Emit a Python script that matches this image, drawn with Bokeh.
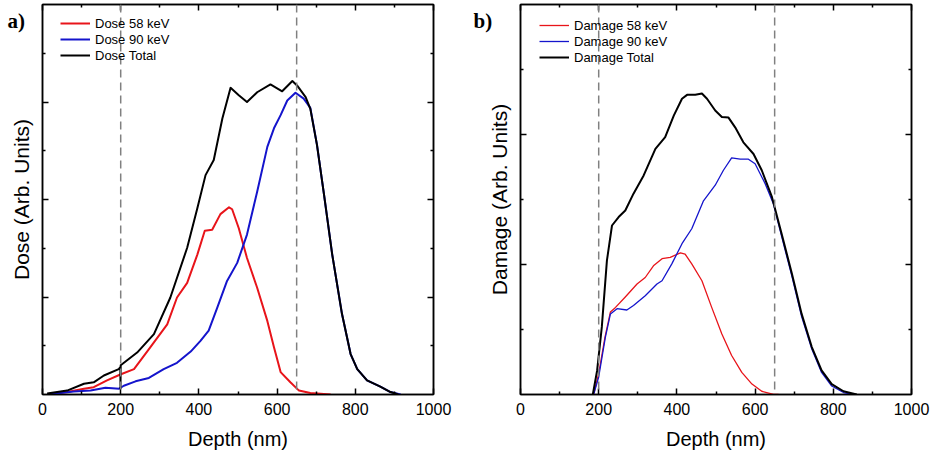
from bokeh.plotting import figure
from bokeh.layouts import row
from bokeh.models import (Range1d, FixedTicker, LinearAxis, Span, Legend, LegendItem, Label)
from bokeh.embed import file_html
from bokeh.resources import INLINE

# ---------------- data: panel a (Dose) ----------------
dose_x_58 = [12, 63, 106, 131, 165, 199, 234, 276, 319, 344, 370, 396, 415, 434, 455, 477, 485,
             502, 523, 549, 575, 592, 609, 634, 656, 685, 737]
dose_58 = [0, 0.05, 0.12, 0.15, 0.29, 0.41, 0.52, 0.97, 1.44, 1.99, 2.29, 2.87, 3.36, 3.38, 3.70,
           3.84, 3.80, 3.41, 2.80, 2.19, 1.51, 0.97, 0.46, 0.25, 0.08, 0.03, 0]

dose_x_90 = [12, 80, 123, 161, 196, 208, 238, 272, 310, 344, 379, 404, 425, 447, 472, 498, 523,
             549, 575, 592, 609, 626, 647, 668, 685, 702, 720, 741, 766, 788, 805, 830, 864, 890, 916]
dose_90 = [0, 0.06, 0.08, 0.14, 0.12, 0.18, 0.27, 0.34, 0.52, 0.65, 0.88, 1.10, 1.31, 1.78, 2.33,
           2.70, 3.28, 4.16, 5.08, 5.46, 5.73, 6.03, 6.19, 6.07, 5.88, 5.12, 4.10, 2.87, 1.65, 0.83,
           0.52, 0.29, 0.16, 0.05, 0]

dose_x_tot = [12, 63, 106, 131, 157, 195, 199, 199.5, 200, 242, 285, 327, 370, 396, 417, 438, 460,
              481, 502, 523, 549, 583, 613, 639, 651, 673, 685, 702, 720, 741, 766, 788, 805, 830,
              864, 890, 910]
dose_tot = [0.02, 0.08, 0.22, 0.25, 0.39, 0.52, 0.56, 0.13, 0.60, 0.86, 1.24, 1.99, 3.01, 3.82,
            4.50, 4.81, 5.66, 6.29, 6.14, 6.00, 6.20, 6.36, 6.22, 6.43, 6.34, 6.10, 5.86, 5.12,
            4.10, 2.87, 1.65, 0.83, 0.52, 0.29, 0.16, 0.05, 0]

# ---------------- data: panel b (Damage) ----------------
dmg_x_58 = [187, 200, 216, 230, 243, 268, 298, 319, 340, 362, 383, 409, 421, 438, 464, 489, 515,
            540, 566, 592, 617, 647, 660]
dmg_58 = [0, 0.32, 0.88, 1.27, 1.34, 1.50, 1.70, 1.80, 1.98, 2.09, 2.11, 2.18, 2.16, 2.01, 1.75,
          1.34, 0.93, 0.60, 0.34, 0.16, 0.05, 0, 0]

dmg_x_90 = [187, 200, 217, 230, 247, 272, 289, 319, 349, 362, 387, 413, 438, 468, 498, 519, 540,
            562, 583, 600, 626, 647, 668, 694, 719, 745, 770, 796, 826, 850]
dmg_90 = [0, 0.27, 0.88, 1.24, 1.32, 1.30, 1.37, 1.52, 1.70, 1.75, 2.01, 2.32, 2.55, 2.98, 3.22,
          3.45, 3.64, 3.62, 3.62, 3.55, 3.24, 2.93, 2.43, 1.82, 1.20, 0.70, 0.34, 0.13, 0.03, 0]

dmg_x_tot = [185, 196, 208, 221, 234, 251, 268, 289, 315, 345, 370, 392, 413, 426, 447, 464, 477,
             498, 515, 532, 549, 570, 596, 617, 643, 668, 694, 719, 745, 770, 796, 826, 860]
dmg_tot = [0, 0.37, 1.04, 2.06, 2.60, 2.73, 2.83, 3.09, 3.37, 3.78, 3.96, 4.29, 4.55, 4.61, 4.61,
           4.63, 4.55, 4.37, 4.27, 4.26, 4.11, 3.88, 3.70, 3.45, 3.04, 2.47, 1.86, 1.24, 0.73, 0.37,
           0.16, 0.05, 0]

x_ticks = [0, 200, 400, 600, 800, 1000]
x_minor = [100, 300, 500, 700, 900]
markers = [200, 650]

labels_a = ["Dose 58 keV", "Dose 90 keV", "Dose Total"]
labels_b = ["Damage 58 keV", "Damage 90 keV", "Damage Total"]

RED = "#e8141a"
BLUE = "#1414cc"
FONT = "Liberation Sans"


def base_axis(ax):
    ax.axis_line_width = 1.5
    ax.axis_line_color = "black"
    ax.major_tick_in = 6
    ax.major_tick_out = 0
    ax.minor_tick_out = 0
    ax.major_tick_line_width = 1.5
    ax.minor_tick_line_width = 1.5
    ax.major_tick_line_color = "black"
    ax.minor_tick_line_color = "black"


def tick_only(ax, positions, length):
    # an axis without labels: every tick is drawn as a "minor" tick
    base_axis(ax)
    ax.ticker = FixedTicker(ticks=[], minor_ticks=positions)
    ax.minor_tick_in = length
    ax.major_label_standoff = 0


def add_ticks(p, side, major, minor):
    a1 = LinearAxis()
    tick_only(a1, major, 6)
    p.add_layout(a1, side)
    a2 = LinearAxis()
    tick_only(a2, minor, 3)
    a2.axis_line_color = None
    p.add_layout(a2, side)


def make_panel(width, left, right, ymax, yt, ym, ylabel, series, labels, widths, leg_loc,
               tag, tag_x):
    p = figure(width=width, height=461, output_backend="svg", toolbar_location=None,
               x_range=Range1d(0, 1000), y_range=Range1d(0, ymax), y_axis_location=None,
               min_border_left=left, min_border_right=right, min_border_top=4, min_border_bottom=67,
               x_axis_label="Depth (nm)")
    p.grid.visible = False
    p.outline_line_color = "black"
    p.outline_line_width = 1.5
    p.background_fill_color = "white"
    p.border_fill_color = "white"

    xa = p.xaxis[0]
    base_axis(xa)
    xa.ticker = FixedTicker(ticks=x_ticks, minor_ticks=x_minor)
    xa.minor_tick_in = 3
    xa.major_label_text_font = FONT
    xa.major_label_text_font_size = "16px"
    xa.major_label_text_color = "black"
    xa.major_label_standoff = 8
    xa.axis_label_standoff = 10
    xa.axis_label_text_font_size = "20px"

    # left: ticks first (next to the frame), then an axis carrying only the title
    add_ticks(p, "left", yt, ym)
    ya = LinearAxis(ticker=FixedTicker(ticks=[], minor_ticks=[]), axis_label=ylabel)
    ya.axis_line_color = None
    ya.major_tick_out = 0
    ya.major_tick_in = 0
    ya.minor_tick_out = 0
    ya.minor_tick_in = 0
    ya.major_label_standoff = 0
    ya.axis_label_standoff = 10
    ya.axis_label_text_font_size = "21px"
    p.add_layout(ya, "left")

    for ax in (xa, ya):
        ax.axis_label_text_font = FONT
        ax.axis_label_text_font_style = "normal"
        ax.axis_label_text_color = "black"

    add_ticks(p, "above", x_ticks, x_minor)
    add_ticks(p, "right", yt, ym)

    for m in markers:
        p.add_layout(Span(location=m, dimension="height", line_color="#808080",
                          line_width=1.5, line_dash="8 5"))

    colors = [RED, BLUE, "black"]
    rends = []
    for (xs, ys), c, w in zip(series, colors, widths):
        r = p.line(xs, ys, line_color=c, line_width=w, line_join="round")
        rends.append(r)

    items = [LegendItem(label=l, renderers=[r]) for l, r in zip(labels, rends)]
    leg = Legend(items=items, location=leg_loc, padding=0, spacing=0, margin=0,
                 label_height=16, glyph_height=16, glyph_width=30, label_standoff=5,
                 label_text_font=FONT, label_text_font_size="13px", label_text_color="black",
                 border_line_color=None, background_fill_alpha=0)
    p.add_layout(leg, "center")

    # panel tag, drawn at an absolute canvas position (kept in the wide right border so
    # that it is not clipped to the frame and does not change the layout)
    tag_label = Label(x=tag_x, y=20, x_units="canvas", y_units="canvas", text=tag,
                      text_font="Liberation Serif", text_font_size="21px",
                      text_font_style="bold", text_color="black", text_baseline="alphabetic")
    p.add_layout(tag_label, "right")
    return p


pa = make_panel(469, 42, 36, 8, [2, 4, 6], [1, 3, 5, 7], "Dose (Arb. Units)",
                [(dose_x_58, dose_58), (dose_x_90, dose_90), (dose_x_tot, dose_tot)],
                labels_a, [2, 2, 2], (18, 331), "a)", 7)
pb = make_panel(470, 51, 28, 6, [2, 4], [1, 3, 5], "Damage (Arb. Units)",
                [(dmg_x_58, dmg_58), (dmg_x_90, dmg_90), (dmg_x_tot, dmg_tot)],
                labels_b, [1.3, 1.3, 2], (19, 329), "b)", 4)

layout = row(pa, pb)
open("out.html", "w").write(file_html(layout, INLINE))
